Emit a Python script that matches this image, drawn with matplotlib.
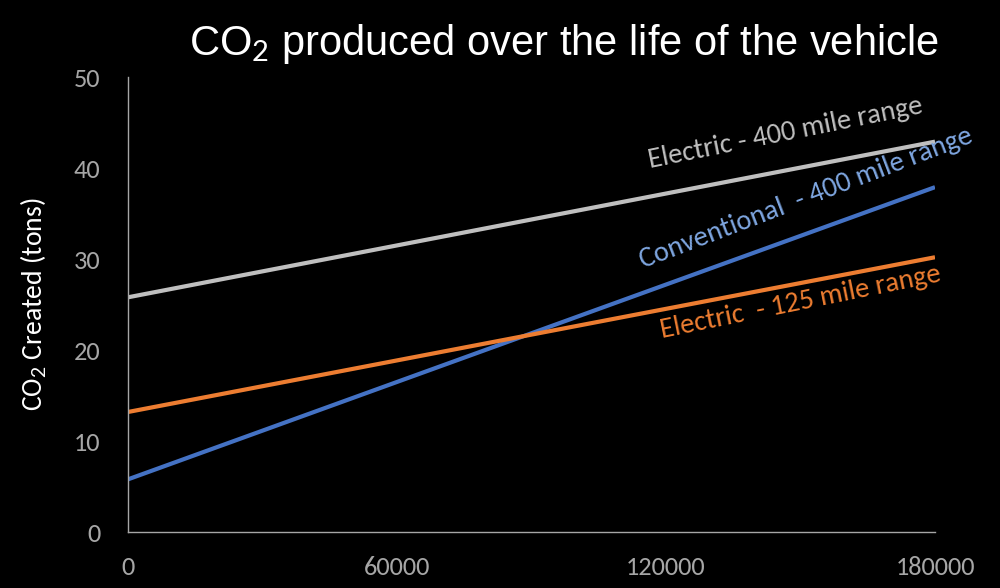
import matplotlib
matplotlib.use("Agg")
import matplotlib.pyplot as plt

miles = [0, 180000]
electric_400 = [25.8, 42.9]
conventional_400 = [5.8, 37.9]
electric_125 = [13.2, 30.2]
x_ticks = [0, 60000, 120000, 180000]
y_ticks = [0, 10, 20, 30, 40, 50]

title = "CO$_2$ produced over the life of the vehicle"
ylabel = "CO$_2$ Created (tons)"

FAM = ['Carlito', 'Lato', 'DejaVu Sans']
plt.rcParams['font.family'] = FAM
plt.rcParams['mathtext.fontset'] = 'custom'
plt.rcParams['mathtext.rm'] = 'Lato'

fig = plt.figure(figsize=(10, 5.88), dpi=100, facecolor='black')
ax = fig.add_axes([0.128, 0.095, 0.807, 0.774], facecolor='black')

ax.plot(miles, electric_400, color='#bfbfbf', lw=3, solid_capstyle='butt')
ax.plot(miles, conventional_400, color='#4472c4', lw=3, solid_capstyle='butt')
ax.plot(miles, electric_125, color='#ed7d31', lw=3, solid_capstyle='butt')

ax.set_xlim(0, 180000)
ax.set_ylim(0, 50)
ax.set_xticks(x_ticks)
ax.set_xticklabels([str(v) for v in x_ticks])
ax.set_yticks(y_ticks)
ax.tick_params(colors='#a6a6a6', labelsize=19, length=0)
ax.tick_params(axis='y', pad=20)
ax.tick_params(axis='x', pad=17)
for s in ['top', 'right']:
    ax.spines[s].set_visible(False)
for s in ['left', 'bottom']:
    ax.spines[s].set_color('#a6a6a6')
    ax.spines[s].set_linewidth(1)

ax.set_ylabel(ylabel, color='white', fontsize=20, labelpad=18)

fig.text(0.564, 0.925, title, color='white', fontsize=30, ha='center', va='center',
         family=['Liberation Sans Narrow', 'Liberation Sans', 'DejaVu Sans'])

ax.text(0.815, 0.876, "Electric - 400 mile range", transform=ax.transAxes, color='#bfbfbf',
        fontsize=20.5, rotation=11.4, ha='center', va='center', rotation_mode='anchor')
ax.text(0.84, 0.733, "Conventional  - 400 mile range", transform=ax.transAxes, color='#7ea6e0',
        fontsize=20.5, rotation=20.9, ha='center', va='center', rotation_mode='anchor')
ax.text(0.833, 0.505, "Electric  - 125 mile range", transform=ax.transAxes, color='#ed7d31',
        fontsize=20.5, rotation=11.5, ha='center', va='center', rotation_mode='anchor')

fig.savefig("out.png", dpi=100, facecolor='black')
